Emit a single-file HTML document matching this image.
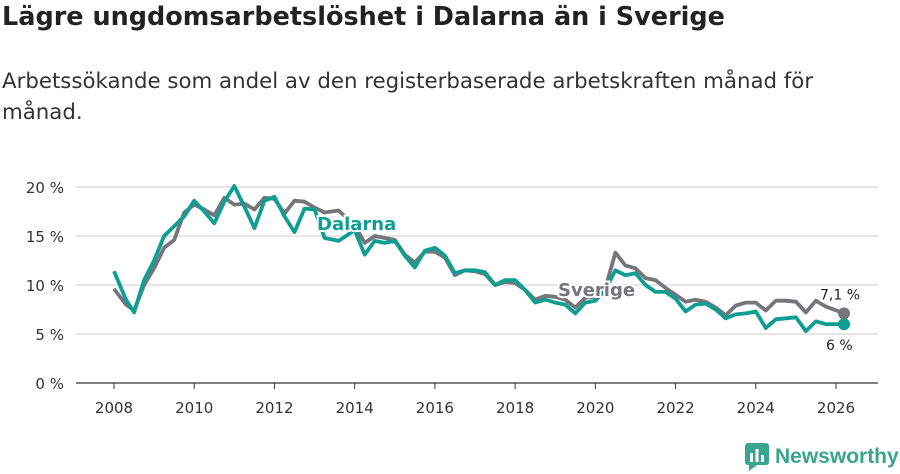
<!DOCTYPE html>
<html><head><meta charset="utf-8"><style>
body{margin:0;background:#fff;font-family:"DejaVu Sans","Liberation Sans",sans-serif;}
#w{position:relative;width:900px;height:474px;overflow:hidden;}
h1{position:absolute;left:2px;top:2px;margin:0;font-size:25.5px;font-weight:bold;color:#222;white-space:nowrap;}
.sub{position:absolute;left:2px;top:66px;font-size:21.3px;color:#333;line-height:31px;width:890px;white-space:nowrap;}
</style></head><body>
<div id="w">
<h1>Lägre ungdomsarbetslöshet i Dalarna än i Sverige</h1>
<div class="sub">Arbetssökande som andel av den registerbaserade arbetskraften månad för<br>månad.</div>
<svg id="c" width="900" height="474" style="position:absolute;left:0;top:0"></svg>
</div>
<script>
const times=[2008,2008.3,2008.5,2008.75,2009,2009.25,2009.5,2009.75,2010,2010.25,2010.5,2010.75,2011,2011.25,2011.5,2011.75,2012,2012.25,2012.5,2012.75,2013,2013.25,2013.6,2014,2014.25,2014.5,2014.75,2015,2015.25,2015.5,2015.75,2016,2016.25,2016.5,2016.75,2017,2017.25,2017.5,2017.75,2018,2018.25,2018.5,2018.75,2019,2019.25,2019.5,2019.75,2020,2020.25,2020.5,2020.75,2021,2021.25,2021.5,2021.75,2022,2022.25,2022.5,2022.75,2023,2023.25,2023.5,2023.75,2024,2024.25,2024.5,2024.75,2025,2025.25,2025.5,2025.75,2026.2];
const sverige=[9.6,8.0,7.4,10,11.7,13.8,14.6,17.4,18.2,17.7,17.1,18.9,18.2,18.3,17.7,18.9,18.8,17.3,18.6,18.5,17.9,17.4,17.6,16.1,14.3,15.0,14.8,14.6,13.1,12.3,13.4,13.4,12.8,11.0,11.5,11.4,11.1,10.0,10.3,10.2,9.5,8.5,8.9,8.8,8.5,7.7,8.7,8.8,9.7,13.3,12.0,11.7,10.7,10.5,9.7,9.0,8.3,8.5,8.3,7.7,6.9,7.9,8.2,8.2,7.4,8.4,8.4,8.3,7.2,8.4,7.8,7.1];
const dalarna=[11.4,8.5,7.2,10.5,12.5,15.0,16.0,17.0,18.6,17.5,16.3,18.5,20.1,18.0,15.8,18.6,19.0,17.0,15.4,17.8,17.7,14.8,14.5,15.6,13.1,14.5,14.3,14.5,13.0,11.8,13.5,13.8,13.0,11.2,11.5,11.5,11.3,10.0,10.5,10.5,9.5,8.2,8.5,8.2,8.0,7.1,8.2,8.4,9.5,11.5,11.0,11.2,10.0,9.3,9.3,8.6,7.3,8.0,8.1,7.5,6.6,7.0,7.1,7.3,5.6,6.5,6.6,6.7,5.3,6.3,6.0,6.0];
const yTicks=[0,5,10,15,20];
const xTicks=[2008,2010,2012,2014,2016,2018,2020,2022,2024,2026];
const NS="http://www.w3.org/2000/svg",svg=document.getElementById('c');
const X=t=>114+(t-2008)*(836-114)/18, Y=v=>383-v*9.8;
function mk(tag,a,txt){const e=document.createElementNS(NS,tag);for(const k in a)e.setAttribute(k,a[k]);if(txt!=null)e.textContent=txt;svg.appendChild(e);return e;}
yTicks.forEach(v=>{
 const l=mk('line',{x1:76,x2:878,y1:Y(v),y2:Y(v),stroke:v===0?'#333':'#ddd','stroke-width':v===0?1.2:1.5});
 
 
 const t=mk('text',{x:64,y:Y(v)+6,'text-anchor':'end','font-size':15,fill:'#333'},v+' %');
 
 
});
xTicks.forEach(v=>{
 const l=mk('line',{x1:X(v),x2:X(v),y1:383,y2:389,stroke:'#333'});
 
 
 const t=mk('text',{x:X(v),y:413,'text-anchor':'middle','font-size':15,fill:'#333'},v);
 
 
});
function line(vals,col,name){
 const d=vals.map((v,i)=>(i?'L':'M')+X(times[i]).toFixed(1)+','+Y(v).toFixed(1)).join('');
 const p=mk('path',{d:d,fill:'none',stroke:col,'stroke-width':3.8,'stroke-linejoin':'round'});
 
 
 const n=vals.length-1;
 const c=mk('circle',{cx:X(times[n]),cy:Y(vals[n]),r:6,fill:col});
 
 
}
line(sverige,'#75757a','sverige-line');
line(dalarna,'#0f9e94','dalarna-line');
function lab(x,y,txt,col,name,size,w){
 const t=mk('text',{x:x,y:y,'font-size':size,'font-weight':w,fill:col,stroke:'#fff','stroke-width':4,'paint-order':'stroke'},txt);
 
 
}
lab(317,230,'Dalarna','#0f9e94','dalarna-label',18,'bold');
lab(558,296,'Sverige','#75757a','sverige-label',18,'bold');
const n=times.length-1;
lab(820,Y(sverige[n])-14,sverige[n].toString().replace('.',',')+' %','#222','sverige-value-label',14,'normal');
lab(826,Y(dalarna[n])+26,dalarna[n].toString().replace('.',',')+' %','#222','dalarna-value-label',14,'normal');
</script>
<div style="position:absolute;left:745px;top:443px;display:flex;align-items:center;">
<svg width="24" height="28"><rect x="0" y="0" width="24" height="22" rx="3" fill="#3aa58f"/><polygon points="4,22 12,22 4,28" fill="#3aa58f"/><rect x="5" y="10" width="3" height="9" fill="#fff"/><rect x="10.5" y="6" width="3" height="13" fill="#fff"/><rect x="16" y="12" width="3" height="7" fill="#fff"/></svg>
<span style="font-family:'Liberation Sans',sans-serif;font-size:21px;color:#3aa58f;margin-left:6px;font-weight:bold;">Newsworthy</span></div>
</body></html>
